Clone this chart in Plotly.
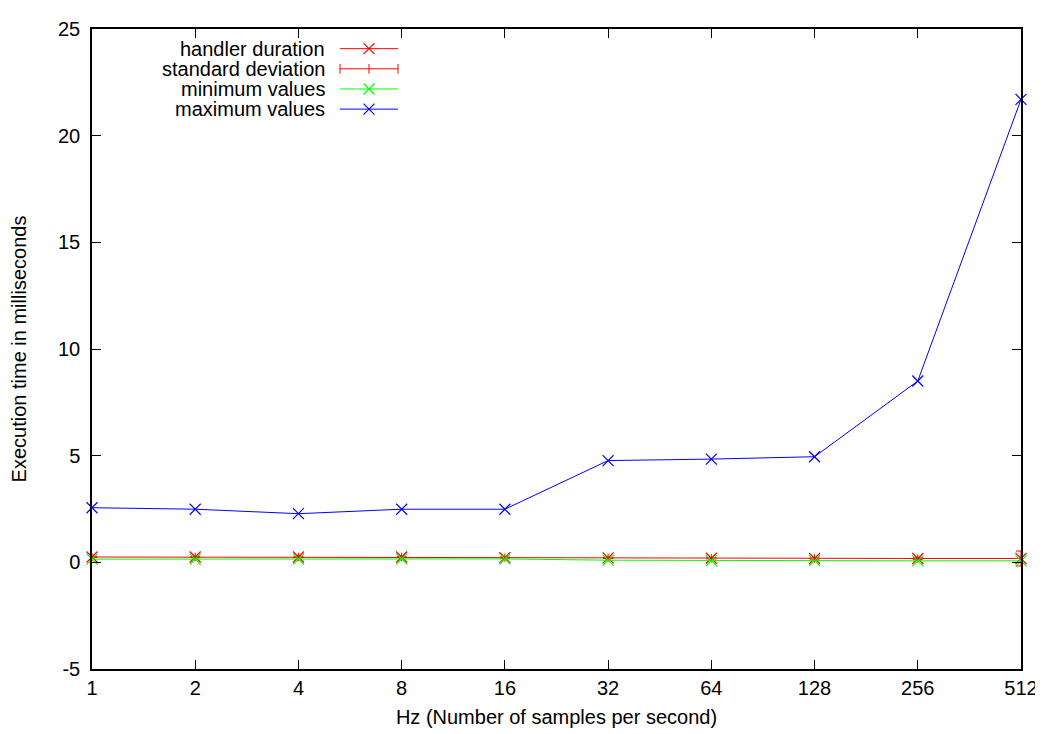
import math
import plotly.graph_objects as go

hz = [1, 2, 4, 8, 16, 32, 64, 128, 256, 512]
tick_labels = ["1", "2", "4", "8", "16", "32", "64", "128", "256", "512"]
y_ticks = [-5, 0, 5, 10, 15, 20, 25]
y_tick_labels = ["-5", "0", "5", "10", "15", "20", "25"]
handler_duration = [0.25, 0.25, 0.25, 0.25, 0.22, 0.21, 0.19, 0.18, 0.18, 0.18]
std_dev = [0.03, 0.03, 0.03, 0.03, 0.03, 0.03, 0.03, 0.03, 0.04, 0.35]
minimum_values = [0.15, 0.15, 0.15, 0.16, 0.16, 0.10, 0.08, 0.08, 0.07, 0.07]
maximum_values = [2.56, 2.49, 2.28, 2.49, 2.49, 4.77, 4.84, 4.95, 8.5, 21.7]

legend_names = ["handler duration", "standard deviation", "minimum values", "maximum values"]

RED, GREEN, BLUE = "#ff0000", "#00ff00", "#0000ff"
FONT = "Liberation Sans, Arial, Helvetica, sans-serif"
FS = 20

W, H = 1043, 734
OFF = 8  # page body margin
# plot area in page pixels
L, R, T, B = 92, 1021, 18, 669

fig = go.Figure()

def xmark(c):
    return dict(symbol="x-thin", size=11, color=c, line=dict(width=1.2, color=c))

fig.add_trace(go.Scatter(x=hz, y=handler_duration, mode="lines+markers",
                         line=dict(color=RED, width=1), marker=xmark(RED),
                         cliponaxis=False, showlegend=False))
fig.add_trace(go.Scatter(x=hz, y=handler_duration, mode="markers",
                         marker=dict(symbol="line-ns", size=6, line=dict(width=1, color=RED), color=RED),
                         error_y=dict(type="data", array=std_dev, color=RED, thickness=1, width=5),
                         cliponaxis=False, showlegend=False))
fig.add_trace(go.Scatter(x=hz, y=minimum_values, mode="lines+markers",
                         line=dict(color=GREEN, width=1), marker=xmark(GREEN),
                         cliponaxis=False, showlegend=False))
fig.add_trace(go.Scatter(x=hz, y=maximum_values, mode="lines+markers",
                         line=dict(color=BLUE, width=1), marker=xmark(BLUE),
                         cliponaxis=False, showlegend=False))

# gnuplot-style key (text left, sample right), positioned in page pixel coordinates
rows = [38, 58.5, 79, 99.5]
colors = [RED, RED, GREEN, BLUE]
x0s, x1s, xm = 340, 398, 369
shapes = []
annotations = []
for i, (name, c, yy) in enumerate(zip(legend_names, colors, rows)):
    annotations.append(dict(x=327, y=yy, xref="x2", yref="y2", text=name, showarrow=False,
                            xanchor="right", yanchor="middle",
                            font=dict(family=FONT, size=FS, color="black")))
    shapes.append(dict(type="line", x0=x0s, x1=x1s, y0=yy, y1=yy, xref="x2", yref="y2",
                       line=dict(color=c, width=1)))
    if i == 1:
        for xx in (x0s, xm, x1s):
            shapes.append(dict(type="line", x0=xx, x1=xx, y0=yy - 5, y1=yy + 5, xref="x2", yref="y2",
                               line=dict(color=c, width=1)))
    else:
        fig.add_trace(go.Scatter(x=[xm], y=[yy], xaxis="x2", yaxis="y2", mode="markers",
                                 marker=xmark(c), showlegend=False, hoverinfo="skip"))

fig.update_layout(
    width=W, height=H,
    margin=dict(l=L - OFF, r=W - (R - OFF), t=T - OFF, b=H - (B - OFF), pad=0),
    paper_bgcolor="white", plot_bgcolor="white",
    font=dict(family=FONT, size=FS, color="black"),
    showlegend=False,
    xaxis=dict(type="log", range=[0, math.log10(512)], tickvals=hz, ticktext=tick_labels,
               ticks="inside", ticklen=9, tickwidth=1, tickcolor="black",
               showline=True, linecolor="black", linewidth=1.5, mirror="ticks",
               showgrid=False, zeroline=False, tickfont=dict(size=FS),
               title=dict(text="Hz (Number of samples per second)", standoff=12,
                          font=dict(family=FONT, size=FS))),
    yaxis=dict(range=[-5, 25], tickvals=y_ticks, ticktext=y_tick_labels,
               ticks="inside", ticklen=9, tickwidth=1, tickcolor="black",
               showline=True, linecolor="black", linewidth=1.5, mirror="ticks",
               showgrid=False, zeroline=False, tickfont=dict(size=FS),
               ticklabelstandoff=6,
               title=dict(text="Execution time in milliseconds", standoff=26,
                          font=dict(family=FONT, size=FS))),
    xaxis2=dict(range=[L, R], overlaying="x", visible=False, fixedrange=True),
    yaxis2=dict(range=[B, T], overlaying="y", visible=False, fixedrange=True),
    shapes=shapes,
    annotations=annotations,
)

fig.write_html("out.html")
